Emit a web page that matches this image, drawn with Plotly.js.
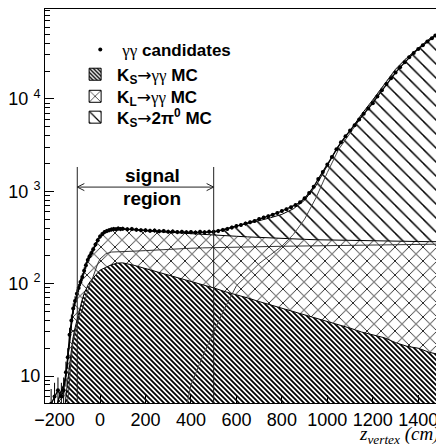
<!DOCTYPE html>
<html>
<head>
<meta charset="utf-8">
<script src="https://cdn.plot.ly/plotly-3.0.1.min.js"></script>
<style>html,body{margin:0;padding:0;background:#fff;overflow:hidden;}</style>
</head>
<body>
<div style="width:436px;height:447px;overflow:hidden;position:relative;">
<div id="chart" style="width:480px;height:447px;"></div>
</div>
<script>
// MC grid (z_vertex, cm)
const mcX = [-240,-200,-175,-160,-150,-140,-130,-120,-110,-100,-90,-80,-70,-60,-50,-40,-30,-20,-10,0,25,50,75,100,150,200,250,300,350,400,450,500,550,600,650,700,750,800,850,900,950,1000,1050,1100,1150,1200,1250,1300,1350,1400,1450,1500];
// K_S -> gamma gamma MC
const ksGG = [0.5,0.8,1.5,3,6,10,16,25,33,42,52,65,78,90,100,108,116,124,132,140,150,160,167,168,158,146,135,125,115,106,97,90,82,76,70,64,59,54,50,46,42,39,36,33,30,28,26,23,21,20,18,17];
// K_L -> gamma gamma MC
const klGG = [0.3,3,5,5,4,6,12,22,30,38,45,50,62,75,90,102,120,145,165,185,210,220,222,222,225,228,232,236,240,242,244,246,248,250,251,252,253,254,255,256,257,258,259,260,261,262,263,264,265,266,267,268];
// K_S -> 2pi0 MC
const ks2pi0 = [0,0,0,0,0,0,0,0,0,0,0,0,0,0,0,0,0,0,0,0,0,0,0,0,0,0,0,0,2,8,16,30,55,95,125,165,205,255,340,500,850,1600,2850,4250,6500,9500,14200,20700,27700,35200,44700,52500];
// gamma gamma candidates (data)
const dataX = [-215,-200,-185,-170,-160,-150,-142,-134,-126,-118,-110,-102,-94,-86,-78,-70,-62,-54,-46,-38,-30,-20,-10,0,10,20,30,40,50,60,70,80,90,100,120,140,160,180,200,220,240,260,280,300,320,340,360,380,400,420,440,460,480,500,520,540,560,580,600,620,640,660,680,700,720,740,760,780,800,820,840,860,880,900,920,940,960,980,1000,1020,1040,1060,1080,1100,1120,1140,1160,1180,1200,1220,1240,1260,1280,1300,1320,1340,1360,1380,1400,1420,1440,1460,1475,1490];
const dataY = [5,6,7,6,7,11,16,28,40,54,65,78,90,104,118,138,158,180,198,215,236,265,296,324,345,362,372,380,386,392,388,396,390,394,388,392,384,380,378,374,376,370,372,366,368,362,364,360,362,358,364,360,366,364,372,382,392,405,420,432,448,462,478,500,520,538,556,584,612,640,672,712,760,840,960,1120,1360,1620,1950,2350,2850,3400,3950,4550,5200,6000,6900,7900,9000,10600,12400,14500,16800,19300,22000,25000,28200,31400,34800,38200,41800,45500,48500,51500];

const xTickVals = [-200,0,200,400,600,800,1000,1200,1400];
const yTickVals = [10,100,1000,10000];
const yTickText = ['10','10 <sup>2</sup>','10 <sup>3</sup>','10 <sup>4</sup>'];
const minorY = [];
for (const dec of [1,10,100,1000,10000]) for (let m=2;m<=9;m++) minorY.push(m*dec);

const stack1 = ksGG.slice();
const stack2 = ksGG.map((v,i)=>v+klGG[i]);
const stack3 = stack2.map((v,i)=>v+ks2pi0[i]);
const base = mcX.map(()=>1);

const patKS = {shape:'\\', size:3.5355, solidity:0.5, fgcolor:'black', bgcolor:'white'};
const patKL = {shape:'x', size:9.8995, solidity:0.16, fgcolor:'black', bgcolor:'white'};
const patPi = {shape:'\\', size:9.8995, solidity:0.15, fgcolor:'black', bgcolor:'white'};

const ARW = '<span style="font-family:DejaVu Sans;font-weight:normal">→</span>';
const GG = '<span style="font-family:Liberation Serif;font-weight:normal">γγ</span>';

const traces = [
  {x:mcX, y:base, mode:'lines', line:{width:0}, showlegend:false, hoverinfo:'skip'},
  {x:mcX, y:stack1, mode:'lines', fill:'tonexty', showlegend:false,
   line:{color:'black', width:1}, fillcolor:'white', fillpattern:patKS},
  {x:mcX, y:stack2, mode:'lines', fill:'tonexty', showlegend:false,
   line:{color:'black', width:1}, fillcolor:'white', fillpattern:patKL},
  {x:mcX, y:stack3, mode:'lines', fill:'tonexty', showlegend:false,
   line:{color:'black', width:1}, fillcolor:'white', fillpattern:patPi},
  {x:mcX, y:klGG, mode:'lines', line:{color:'#333', width:1}, showlegend:false, hoverinfo:'skip'},
  {x:mcX, y:ks2pi0, mode:'lines', line:{color:'#444', width:1}, showlegend:false, hoverinfo:'skip'},
  {x:dataX, y:dataY, mode:'lines', line:{color:'black', width:1.3}, showlegend:false, hoverinfo:'skip'},
  {x:dataX, y:dataY, mode:'markers', name:GG+' candidates', legend:'legend',
   marker:{color:'black', size:4},
   error_y:{type:'sqrt', visible:true, color:'black', thickness:1, width:0}},
  // legend entries for the MC histograms
  {type:'bar', x:[null], y:[null], name:'K<sub>S</sub>'+ARW+GG+' MC', legend:'legend2',
   marker:{color:'white', line:{color:'black', width:1}, pattern:patKS}},
  {type:'bar', x:[null], y:[null], name:'K<sub>L</sub>'+ARW+GG+' MC', legend:'legend3',
   marker:{color:'white', line:{color:'black', width:1}, pattern:patKL}},
  {type:'bar', x:[null], y:[null], name:'K<sub>S</sub>'+ARW+'2π<sup>0</sup> MC', legend:'legend4',
   marker:{color:'white', line:{color:'black', width:1}, pattern:patPi}}
];

function leg(x, y) {
  return {x:x, y:y, xanchor:'left', yanchor:'top', bgcolor:'rgba(0,0,0,0)', borderwidth:0,
          font:{family:'Liberation Sans', size:17, color:'black', weight:'bold'},
          itemwidth:34, traceorder:'normal'};
}

const layout = {
  width:480, height:447,
  margin:{l:45, r:39, t:9, b:44},
  paper_bgcolor:'white', plot_bgcolor:'white',
  showlegend:true,
  legend:leg(0.084, 0.942),
  legend2:leg(0.071, 0.879),
  legend3:leg(0.071, 0.823),
  legend4:leg(0.071, 0.770),
  xaxis:{range:[-242,1500], tickvals:xTickVals, ticks:'inside', ticklen:8, tickcolor:'black',
         showline:true, linecolor:'black', linewidth:1, mirror:true, showgrid:false, zeroline:false,
         tickfont:{family:'Liberation Sans', size:18, color:'black'}, ticklabelstandoff:0},
  yaxis:{type:'log', range:[0.708,4.974], tickvals:yTickVals, ticktext:yTickText, ticks:'inside', ticklen:9,
         tickcolor:'black', showline:true, linecolor:'black', linewidth:1, showgrid:false, zeroline:false,
         minor:{tickvals:minorY, ticks:'inside', ticklen:5, tickcolor:'black', showgrid:false},
         tickfont:{family:'Liberation Sans', size:18, color:'black'}},
  shapes:[
    {type:'line', xref:'x', yref:'paper', x0:-100, x1:-100, y0:0, y1:0.599, line:{color:'#222', width:1}},
    {type:'line', xref:'x', yref:'paper', x0:500, x1:500, y0:0, y1:0.599, line:{color:'#222', width:1}},
    {type:'line', xref:'x', yref:'paper', x0:-100, x1:500, y0:0.548, y1:0.548, line:{color:'#222', width:1}},
    {type:'line', xref:'x', yref:'paper', x0:-100, x1:-69, y0:0.548, y1:0.557, line:{color:'#222', width:1}},
    {type:'line', xref:'x', yref:'paper', x0:-100, x1:-69, y0:0.548, y1:0.539, line:{color:'#222', width:1}},
    {type:'line', xref:'x', yref:'paper', x0:500, x1:469, y0:0.548, y1:0.557, line:{color:'#222', width:1}},
    {type:'line', xref:'x', yref:'paper', x0:500, x1:469, y0:0.548, y1:0.539, line:{color:'#222', width:1}}
  ],
  annotations:[
    {text:'signal', xref:'x', yref:'paper', x:229, y:0.578, showarrow:false,
     font:{family:'Liberation Sans', size:19, color:'black', weight:'bold'}},
    {text:'region', xref:'x', yref:'paper', x:229, y:0.518, showarrow:false,
     font:{family:'Liberation Sans', size:19, color:'black', weight:'bold'}},
    {text:'<i>z<sub>vertex</sub> (cm)</i>', xref:'paper', yref:'paper', x:1.0, y:-0.082, xanchor:'right', yanchor:'middle',
     showarrow:false, font:{family:'Liberation Serif', size:19, color:'black'}}
  ]
};

Plotly.newPlot('chart', traces, layout, {displayModeBar:false, staticPlot:true});
</script>
</body>
</html>
